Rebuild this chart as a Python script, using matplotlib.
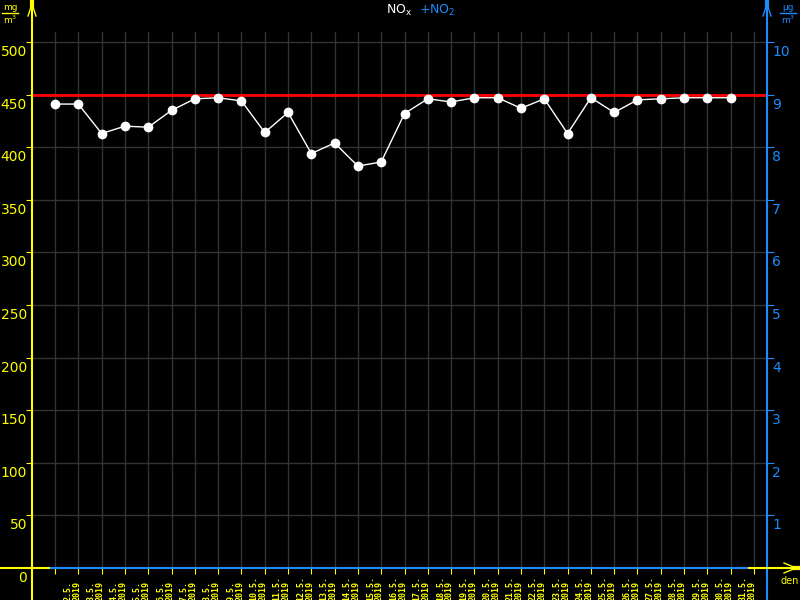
import matplotlib
matplotlib.use("Agg")
import matplotlib.pyplot as plt
from matplotlib.transforms import blended_transform_factory, offset_copy

# -->> Data <<--------------------------

days = list(range(2, 32))
nox = [441, 441, 413, 420, 419, 435, 446, 447, 444, 414,
       433, 394, 404, 382, 386, 432, 446, 443, 447, 447,
       437, 446, 413, 447, 433, 445, 446, 447, 447, 447]
limit = 450
left_ticks = list(range(0, 550, 50))
right_ticks = list(range(1, 11))
date_labels = [f"{d}.5.\n2019" for d in days]

YELLOW = "#ffff00"
BLUE = "#1a8cff"
GRID = "#333333"

# -->> Figure <<------------------------

fig = plt.figure(figsize=(8, 6), dpi=100, facecolor="black")
ax = fig.add_axes([32 / 800, 32 / 600, 735 / 800, 536 / 600])
ax.set_facecolor("black")

x = list(range(len(days)))
ax.set_xlim(-0.99, 30.56)
ax.set_ylim(0, 509.5)
ax.set_xticks(range(len(days) + 1))
ax.set_yticks(left_ticks)
ax.grid(color=GRID, lw=1)
ax.tick_params(axis="y", direction="out", length=4, color=YELLOW,
               labelleft=False)
ax.tick_params(axis="x", direction="out", length=4, color=YELLOW,
               labelbottom=False)
for sp in ax.spines.values():
    sp.set_visible(False)

ax2 = ax.twinx()
ax2.set_ylim(0, 509.5 / 50)
ax2.set_yticks(right_ticks)
ax2.tick_params(axis="y", direction="out", length=5, color=BLUE,
                labelright=False)
for sp in ax2.spines.values():
    sp.set_visible(False)

# Limit line and data
ax.axhline(limit, color="red", lw=2, zorder=2)
ax.plot(x, nox, color="white", lw=1, marker="o", ms=6, zorder=3)

# Tick labels, placed just below their ticks
yl = blended_transform_factory(ax.transAxes, ax.transData)
for v in left_ticks:
    ax.text(0, v, str(v), transform=offset_copy(yl, fig=fig, x=-5, y=-3, units="dots"),
            ha="right", va="top", color=YELLOW, fontsize=10)
yr = blended_transform_factory(ax2.transAxes, ax2.transData)
for v in right_ticks:
    ax2.text(1, v, str(v), transform=offset_copy(yr, fig=fig, x=5, y=-3, units="dots"),
             ha="left", va="top", color=BLUE, fontsize=10)

# date labels start at the bottom edge and run upward
xd = blended_transform_factory(ax.transData, fig.transFigure)
for i, lab in enumerate(date_labels):
    ax.text(i, 0, lab, transform=offset_copy(xd, fig=fig, x=8, y=-1, units="dots"),
            rotation=90, ha="left", va="bottom", multialignment="left",
            fontsize=6, fontweight="bold", color=YELLOW, family="DejaVu Sans Mono",
            linespacing=1.0, clip_on=False)

# -->> Overlay decorations (pixel space) <<--

ov = fig.add_axes([0, 0, 1, 1], zorder=5)
ov.set_xlim(0, 800)
ov.set_ylim(600, 0)
ov.axis("off")
ov.patch.set_alpha(0)

ov.plot([32, 32], [3, 600], color=YELLOW, lw=1.5)
ov.plot([767, 767], [3, 600], color=BLUE, lw=1.5)
ov.plot([0, 51], [568, 568], color=YELLOW, lw=1.5)
ov.plot([51, 749], [568, 568], color=BLUE, lw=1.5)
ov.plot([749, 793], [568, 568], color=YELLOW, lw=1.5)

# arrows
ov.plot([28, 32, 36], [16, 4, 16], color=YELLOW, lw=1)
ov.plot([32, 32], [0, 6], color=YELLOW, lw=3)
ov.plot([763, 767, 771], [16, 4, 16], color=BLUE, lw=1)
ov.plot([767, 767], [0, 6], color=BLUE, lw=3)
ov.plot([784, 796, 784], [563, 568, 573], color=YELLOW, lw=1)
ov.plot([794, 800], [568, 568], color=YELLOW, lw=3)

# units
ov.text(10, 12, "mg", color=YELLOW, fontsize=6.5, ha="center", va="bottom")
ov.plot([2, 18], [13, 13], color=YELLOW, lw=1)
ov.text(10, 14, r"m$^3$", color=YELLOW, fontsize=6.5, ha="center", va="top")
ov.text(788, 12, "µg", color=BLUE, fontsize=6.5, ha="center", va="bottom")
ov.plot([780, 796], [13, 13], color=BLUE, lw=1)
ov.text(788, 14, r"m$^3$", color=BLUE, fontsize=6.5, ha="center", va="top")
ov.text(790, 581, "den", color=YELLOW, fontsize=7, ha="center", va="center")

# title
ov.text(412, 10, r"NO$_\mathrm{x}$", color="white", fontsize=9, ha="right", va="center")
ov.text(419, 10, r"+NO$_\mathrm{2}$", color=BLUE, fontsize=9, ha="left", va="center")

fig.savefig("out.png", dpi=100, facecolor="black")
